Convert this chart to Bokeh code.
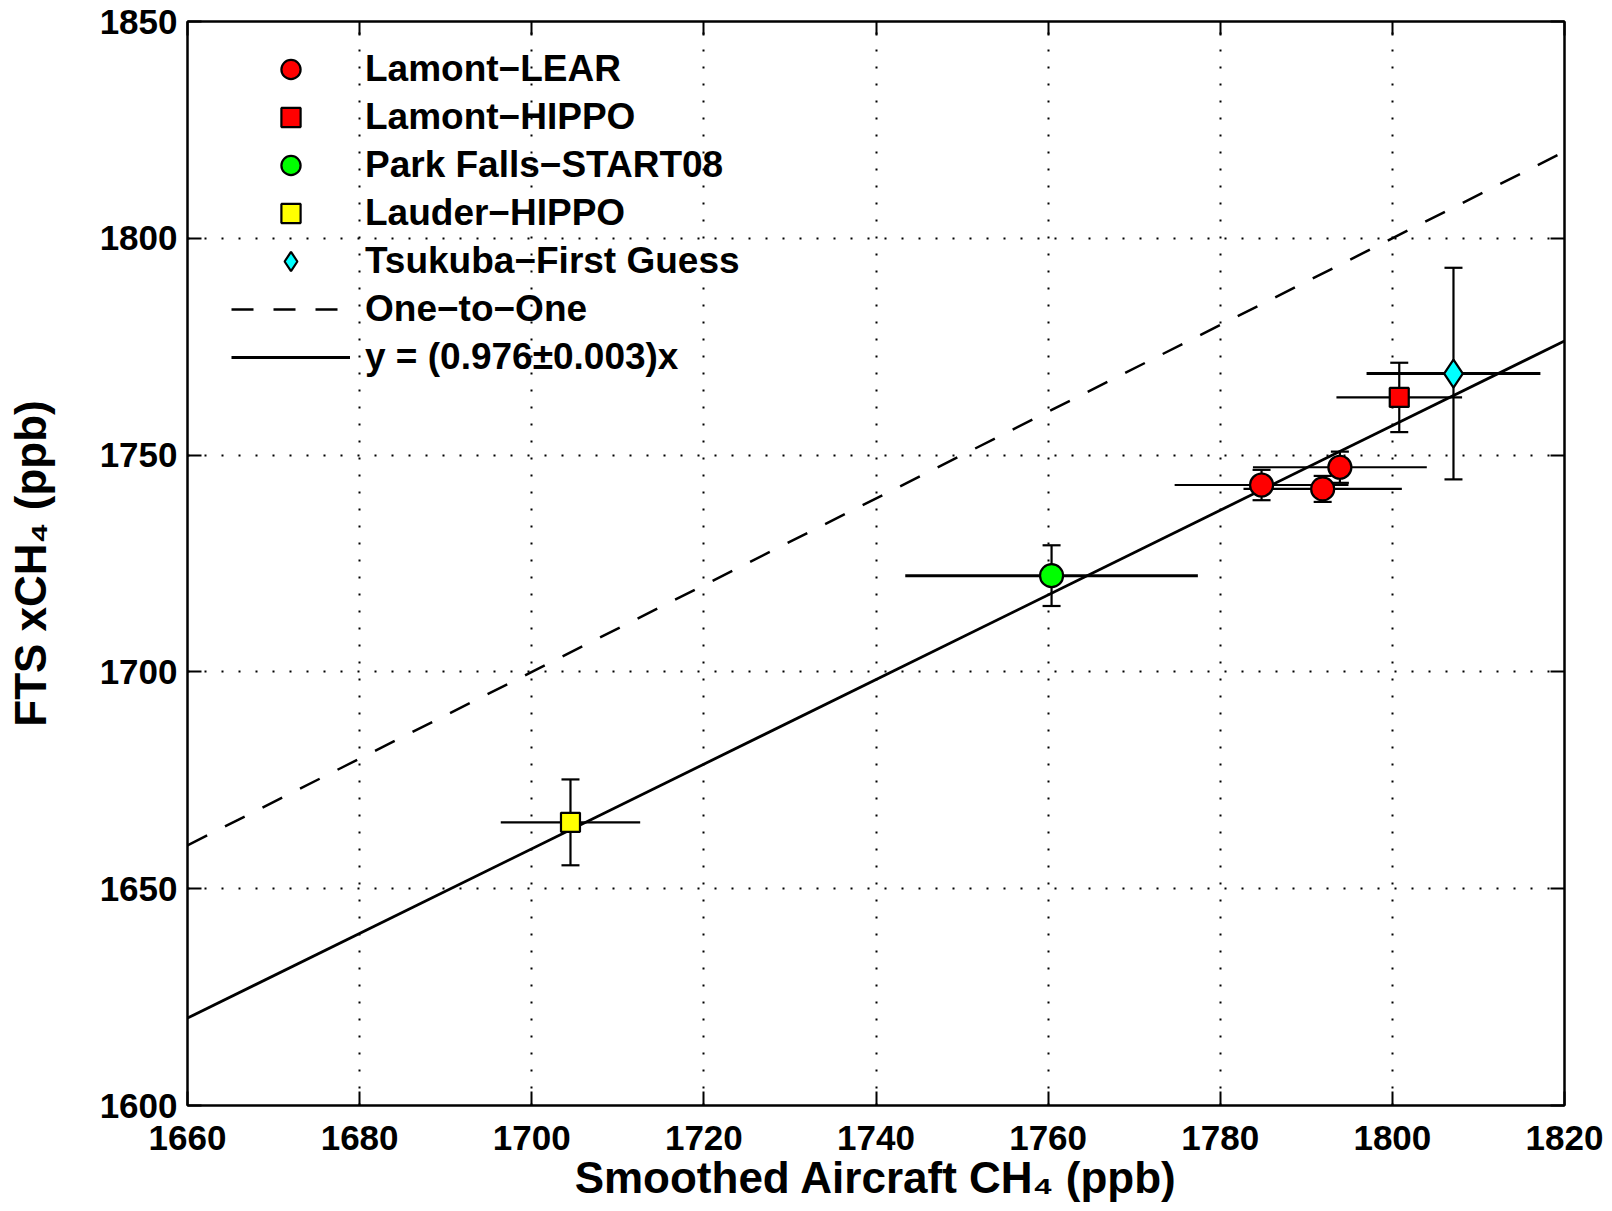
import numpy as np
from bokeh.plotting import figure
from bokeh.models import (Range1d, FixedTicker, LinearAxis, Legend, LegendItem)
from bokeh.embed import file_html
from bokeh.resources import INLINE

# ---------------- data ----------------
x_ticks = [1660, 1680, 1700, 1720, 1740, 1760, 1780, 1800, 1820]
y_ticks = [1600, 1650, 1700, 1750, 1800, 1850]

lear_x = [1784.8, 1791.9, 1793.9]
lear_y = [1743.1, 1742.2, 1747.2]
lear_xerr = [10.1, 9.2, 10.1]
lear_yerr = [3.5, 3.0, 3.6]

lhippo_x = [1800.8]
lhippo_y = [1763.3]
lhippo_xerr = [7.3]
lhippo_yerr = [8.0]

park_x = [1760.4]
park_y = [1722.2]
park_xerr = [17.0]
park_yerr = [7.0]

lauder_x = [1704.5]
lauder_y = [1665.3]
lauder_xerr = [8.1]
lauder_yerr = [9.9]

tsu_x = [1807.1]
tsu_y = [1768.8]
tsu_xerr = [10.1]
tsu_yerr = [24.4]

fit_slope = 0.976
line_x = [1660, 1820]

labels = ["Lamont\u2212LEAR", "Lamont\u2212HIPPO", "Park Falls\u2212START08",
          "Lauder\u2212HIPPO", "Tsukuba\u2212First Guess", "One\u2212to\u2212One",
          "y = (0.976\u00b10.003)x"]
x_title = "Smoothed Aircraft CH\u2084 (ppb)"
y_title = "FTS xCH\u2084 (ppb)"

FONT = "Liberation Sans"

p = figure(width=1612, height=1211, output_backend="svg", toolbar_location=None,
           x_range=Range1d(1660, 1820), y_range=Range1d(1600, 1850),
           min_border_left=187, min_border_right=48, min_border_top=21, min_border_bottom=106)
p.background_fill_color = "white"
p.border_fill_color = "white"
p.outline_line_color = "black"
p.outline_line_width = 2

# axes
for ax in (p.xaxis[0], p.yaxis[0]):
    ax.major_label_text_font = FONT
    ax.major_label_text_font_style = "bold"
    ax.major_label_text_font_size = "35px"
    ax.major_label_text_color = "black"
    ax.axis_line_width = 2
    ax.major_tick_line_width = 2
    ax.major_tick_in = 14
    ax.major_tick_out = 0
    ax.minor_tick_line_color = None
    ax.axis_label_text_font = FONT
    ax.axis_label_text_font_style = "bold"
    ax.axis_label_text_font_size = "44px"
    ax.axis_label_text_color = "black"
p.xaxis[0].ticker = FixedTicker(ticks=x_ticks)
p.yaxis[0].ticker = FixedTicker(ticks=y_ticks)
p.xaxis[0].major_label_standoff = 20
p.yaxis[0].major_label_standoff = 10
p.xaxis[0].axis_label = x_title
p.yaxis[0].axis_label = y_title
p.xaxis[0].axis_label_standoff = 0
p.yaxis[0].axis_label_standoff = 42

for side, ticks in (("above", x_ticks), ("right", y_ticks)):
    ax = LinearAxis(ticker=FixedTicker(ticks=ticks))
    ax.major_label_overrides = {t: "" for t in ticks}
    ax.major_label_text_font_size = "1px"
    ax.major_label_standoff = 0
    ax.axis_line_width = 2
    ax.major_tick_line_width = 2
    ax.major_tick_in = 14
    ax.major_tick_out = 0
    ax.minor_tick_line_color = None
    p.add_layout(ax, side)

# grid
p.xgrid.ticker = FixedTicker(ticks=x_ticks)
p.ygrid.ticker = FixedTicker(ticks=y_ticks)
for g in (p.xgrid[0], p.ygrid[0]):
    g.grid_line_color = "black"
    g.grid_line_width = 2
    g.grid_line_dash = "2 15"
    g.grid_line_alpha = 1.0

# lines
lx = np.array(line_x, dtype=float)
r_one = p.line(lx, lx, line_color="black", line_width=2.5, line_dash="22 20")
r_fit = p.line(lx, fit_slope * lx, line_color="black", line_width=2.8)

series = [
    (lear_x, lear_y, lear_xerr, lear_yerr, "circle", "#ff0000", 23, 2.2),
    (lhippo_x, lhippo_y, lhippo_xerr, lhippo_yerr, "square", "#ff0000", 19, 2.2),
    (park_x, park_y, park_xerr, park_yerr, "circle", "#00ff00", 23, 3),
    (lauder_x, lauder_y, lauder_xerr, lauder_yerr, "square", "#ffff00", 19, 2.2),
    (tsu_x, tsu_y, tsu_xerr, tsu_yerr, "diamond", "#00ffff", 28, 3),
]

marker_renderers = []
for xs, ys, xe, ye, marker, color, size, hw in series:
    xs = np.array(xs); ys = np.array(ys); xe = np.array(xe); ye = np.array(ye)
    p.segment(xs - xe, ys, xs + xe, ys, line_color="black", line_width=hw)
    p.segment(xs, ys - ye, xs, ys + ye, line_color="black", line_width=2.2)
    p.scatter(np.concatenate([xs, xs]), np.concatenate([ys - ye, ys + ye]),
              marker="dash", size=18, line_color="black", line_width=2.2)
for xs, ys, xe, ye, marker, color, size, hw in series:
    r = p.scatter(xs, ys, marker=marker, size=size, fill_color=color,
                  line_color="black", line_width=2.2)
    marker_renderers.append(r)

items = [LegendItem(label=labels[i], renderers=[marker_renderers[i]]) for i in range(5)]
items.append(LegendItem(label=labels[5], renderers=[r_one]))
items.append(LegendItem(label=labels[6], renderers=[r_fit]))
legend = Legend(items=items, location=(44, 724))
legend.label_text_font = FONT
legend.label_text_font_style = "bold"
legend.label_text_font_size = "37px"
legend.label_text_color = "black"
legend.glyph_width = 119
legend.glyph_height = 48
legend.label_height = 42
legend.label_standoff = 15
legend.spacing = 0
legend.padding = 0
legend.margin = 0
legend.border_line_alpha = 0
legend.background_fill_alpha = 0
p.add_layout(legend, "center")

open("out.html", "w").write(file_html(p, INLINE))
